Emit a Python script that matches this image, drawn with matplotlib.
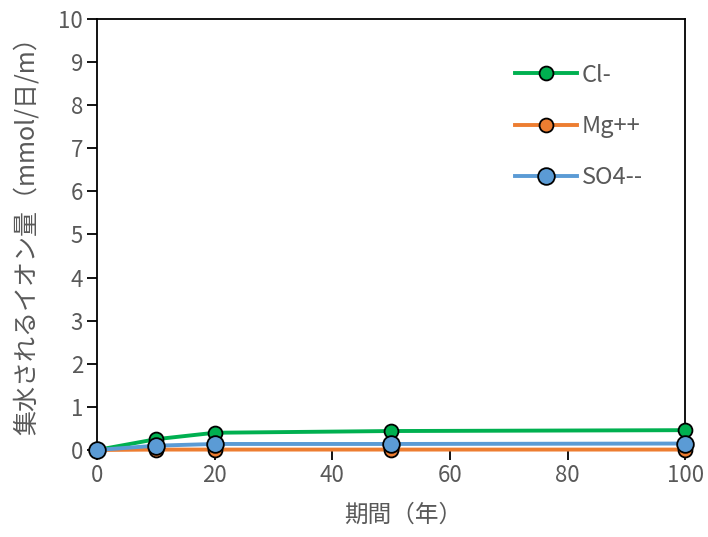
import matplotlib
matplotlib.use("Agg")
import matplotlib.pyplot as plt

plt.rcParams['font.family'] = ['Noto Sans CJK JP', 'DejaVu Sans']

years = [0, 10, 20, 50, 100]
cl = [0.0, 0.25, 0.40, 0.44, 0.46]
mg = [0.0, 0.01, 0.01, 0.01, 0.01]
so4 = [0.0, 0.10, 0.14, 0.14, 0.15]

grey = '#595959'

fig = plt.figure(figsize=(7.08, 5.37), dpi=100)
ax = fig.add_axes([0.137, 0.162, 0.831, 0.803])

ax.plot(years, cl, color='#00b050', lw=2.8, marker='o', ms=10,
        mfc='#00b050', mec='black', mew=1.3, label='Cl-', zorder=4, clip_on=False)
ax.plot(years, mg, color='#ed7d31', lw=2.8, marker='o', ms=10,
        mfc='#ed7d31', mec='black', mew=1.3, label='Mg++', zorder=3, clip_on=False)
ax.plot(years, so4, color='#5b9bd5', lw=2.8, marker='o', ms=12,
        mfc='#5b9bd5', mec='black', mew=1.3, label='SO4--', zorder=5, clip_on=False)

ax.set_xlim(0, 100)
ax.set_ylim(0, 10)
ax.set_xticks(range(0, 101, 20))
ax.set_yticks(range(0, 11))
ax.tick_params(direction='out', length=7, width=1.3, labelsize=16,
               labelcolor=grey, color='black', pad=3)
for s in ax.spines.values():
    s.set_color('black')
    s.set_linewidth(1.3)

ax.set_xlabel('期間（年）', fontsize=17, color=grey)
ax.xaxis.set_label_coords(0.52, -0.125)
ax.set_ylabel('集水されるイオン量（mmol/日/m）', fontsize=18, color=grey)
ax.yaxis.set_label_coords(-0.097, 0.51)

leg = ax.legend(loc='upper left', bbox_to_anchor=(0.675, 0.945), frameon=False,
                fontsize=17, labelspacing=1.2, handlelength=2.6,
                handletextpad=0.2, labelcolor=grey)

fig.savefig('out.png', dpi=100)
